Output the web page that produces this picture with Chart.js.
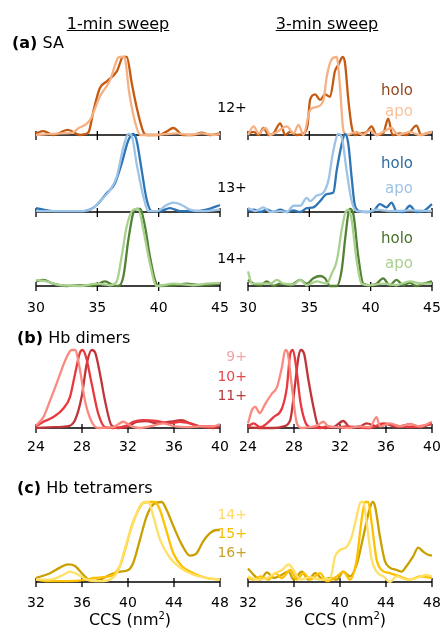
<!DOCTYPE html>
<html><head><meta charset="utf-8">
<script src="https://cdn.jsdelivr.net/npm/chart.js@4"></script>
<style>
body{margin:0;width:443px;height:630px;position:relative;background:#fff;overflow:hidden;font-family:"DejaVu Sans",sans-serif}
canvas{position:absolute;left:0;top:0}
.t{position:absolute;white-space:nowrap;line-height:1}
</style></head>
<body>
<script>
// ---------- tick labels ----------
const SA_TICKS = [30, 35, 40, 45];
const DIMER_TICKS = [24, 28, 32, 36, 40];
const TETRAMER_TICKS = [32, 36, 40, 44, 48];

// ---------- SA 12+ ----------
const SA12_1MIN_HOLO = [[30,0.02],[30.6,0.05],[31.4,0],[32.6,0.065],[33.6,0],[34.0,0.01],[34.3,0.04],[34.7,0.32],[35.2,0.6],[35.8,0.69],[36.6,0.82],[37.1,1.0],[37.4,1.0],[37.8,0.67],[38.2,0.36],[38.75,0.04],[39.0,0],[40.0,0],[40.6,0.04],[41.2,0.09],[42.0,0],[42.8,0],[43.5,0.03],[44.2,0],[45,0.02]];
const SA12_1MIN_APO = [[30,0],[31,0.01],[32,0.02],[33,0.03],[33.4,0.08],[34.4,0.19],[35.2,0.49],[36.0,0.69],[36.8,1.0],[37.2,1.0],[37.6,0.54],[38.1,0.15],[38.5,0],[39.5,0],[40.5,0.01],[41.5,0.02],[42.5,0],[43.5,0.02],[44.5,0],[45,0.01]];
const SA12_3MIN_HOLO = [[30,0.02],[30.46,0.04],[30.87,0],[31.27,0.09],[31.68,0],[32.08,0.02],[32.63,0.15],[33.03,0],[33.44,0.04],[33.98,0],[34.52,0.02],[34.85,0.12],[35.06,0.45],[35.47,0.52],[35.88,0.45],[36.28,0.52],[36.69,0.49],[37.09,0.82],[37.37,0.9],[37.72,1.0],[37.91,0.92],[38.18,0.45],[38.45,0.11],[38.72,0],[39.13,0.02],[39.67,0.04],[40.07,0.11],[40.48,0],[41.02,0.02],[41.43,0.21],[41.78,0],[42.37,0.02],[42.92,0],[43.73,0.12],[44.13,0],[44.54,0.02],[45,0.04]];
const SA12_3MIN_APO = [[30,0],[30.46,0.11],[30.87,0.02],[31.41,0.09],[31.81,0],[32.36,0.04],[33.17,0.11],[33.71,0.02],[34.12,0.13],[34.52,0],[35.06,0.32],[35.6,0.36],[36.15,0.45],[36.42,0.75],[36.82,0.97],[37.23,1.0],[37.5,0.62],[37.77,0.06],[38.04,0],[38.85,0.04],[39.4,0],[39.94,0.06],[40.48,0],[41.02,0.04],[41.7,0.09],[42.24,0],[43.19,0.04],[44.0,0],[45,0.04]];

// ---------- SA 13+ ----------
const SA13_1MIN_HOLO = [[30,0.05],[30.6,0.03],[31.41,0.01],[32.5,0.01],[33.86,0.01],[34.4,0.03],[34.95,0.09],[35.76,0.24],[36.44,0.37],[36.98,0.62],[37.53,0.92],[37.93,1.0],[38.2,0.92],[38.61,0.54],[39.02,0.16],[39.43,0.01],[40.1,0.01],[40.92,0.05],[41.74,0.01],[42.83,0.01],[43.91,0.03],[45,0.09]];
const SA13_1MIN_APO = [[30,0.01],[33.86,0.01],[34.67,0.05],[35.22,0.14],[36.03,0.28],[36.58,0.45],[37.12,0.83],[37.53,1.0],[37.8,0.98],[38.2,0.62],[38.75,0.2],[39.16,0.01],[39.84,0.01],[40.65,0.09],[41.2,0.12],[41.88,0.09],[42.55,0.03],[43.37,0.01],[45,0.03]];
const SA13_3MIN_HOLO = [[30,0.01],[30.46,0.03],[31.0,0],[31.54,0.03],[32.08,0],[32.63,0.03],[33.17,0],[33.71,0.02],[34.25,0],[34.79,0.05],[35.33,0.06],[35.88,0.14],[36.42,0.23],[36.96,0.25],[37.23,0.53],[37.64,0.87],[37.91,1.0],[38.18,0.87],[38.45,0.44],[38.72,0.08],[39.13,0.01],[39.67,0],[40.21,0.01],[40.75,0.1],[41.29,0.06],[41.7,0.12],[42.1,0.01],[42.65,0],[43.19,0.08],[43.73,0],[44.27,0.01],[45,0.1]];
const SA13_3MIN_APO = [[30,0.05],[30.6,0.01],[31.27,0.06],[31.81,0],[32.63,0.01],[33.17,0],[33.71,0.08],[34.25,0.08],[34.79,0.18],[35.06,0.14],[35.6,0.21],[36.15,0.25],[36.55,0.4],[36.96,0.79],[37.37,1.0],[37.64,0.96],[38.04,0.53],[38.45,0.14],[38.85,0.01],[39.67,0],[40.48,0.03],[41.56,0.01],[43.19,0.02],[45,0.01]];

// ---------- SA 14+ ----------
const SA14_1MIN_HOLO = [[30,0.06],[30.6,0.08],[31.41,0.03],[32.5,0],[33.59,0.01],[34.67,0],[35.62,0.06],[36.3,0.01],[36.71,0],[37.12,0.12],[37.53,0.6],[37.93,0.95],[38.2,1.0],[38.48,1.0],[38.89,0.77],[39.29,0.38],[39.7,0.08],[39.97,0],[41.2,0.01],[42.28,0.03],[43.37,0.01],[45,0.03]];
const SA14_1MIN_APO = [[30,0.08],[30.87,0.06],[31.96,0.01],[33.59,0],[34.95,0.03],[36.03,0.01],[36.58,0.06],[36.98,0.38],[37.39,0.77],[37.93,0.99],[38.34,1.0],[38.75,0.73],[39.29,0.29],[39.84,0],[41.2,0.03],[42.83,0.01],[43.91,0.03],[45,0.04]];
const SA14_3MIN_HOLO = [[30,0.08],[30.46,0.03],[31.0,0.01],[31.54,0.06],[32.08,0],[32.63,0.03],[33.44,0.01],[34.25,0.08],[34.79,0.03],[35.33,0.1],[35.88,0.13],[36.28,0.1],[36.69,0],[37.23,0],[37.64,0.21],[37.91,0.6],[38.18,0.94],[38.31,1.0],[38.58,0.94],[38.99,0.38],[39.4,0.03],[39.94,0.01],[40.48,0.03],[41.02,0.1],[41.56,0.01],[42.1,0.08],[42.65,0.01],[43.19,0.04],[43.73,0],[44.27,0.03],[45,0.06]];
const SA14_3MIN_APO = [[30,0.19],[30.32,0.03],[31.0,0.03],[31.81,0.03],[32.36,0.08],[32.9,0.03],[33.71,0.02],[34.25,0.08],[34.79,0.01],[35.6,0.06],[36.42,0.03],[36.82,0.16],[37.23,0.32],[37.64,0.73],[37.91,0.94],[38.18,0.99],[38.45,0.86],[38.85,0.34],[39.26,0.03],[39.94,0.01],[41.02,0.03],[42.1,0.01],[43.19,0.06],[44.27,0.03],[45,0.03]];

// ---------- Hb dimers ----------
const DIMER_1MIN_9 = [[24,0.03],[24.64,0.14],[25.22,0.35],[25.94,0.63],[26.52,0.86],[27.1,1.0],[27.39,1.0],[27.83,0.74],[28.26,0.35],[28.84,0.08],[29.42,0],[30.72,0.01],[31.59,0.08],[32.32,0.02],[33.04,0],[33.91,0.02],[35.07,0.06],[36.09,0.02],[37.1,0.01],[38.26,0.02],[39.42,0.02],[40,0.05]];
const DIMER_1MIN_10 = [[24,0.02],[24.64,0.08],[25.51,0.14],[26.38,0.25],[26.96,0.4],[27.39,0.69],[27.83,0.97],[28.06,1.0],[28.35,0.91],[28.84,0.57],[29.42,0.18],[30.0,0.01],[30.72,0],[31.88,0.03],[32.46,0.08],[33.33,0.1],[34.49,0.09],[35.65,0.06],[36.52,0.08],[37.39,0.06],[38.26,0.02],[39.42,0.02],[40,0.03]];
const DIMER_1MIN_11 = [[24,0],[25.51,0.01],[26.67,0.02],[27.39,0.1],[27.97,0.4],[28.41,0.82],[28.84,1.0],[29.13,0.97],[29.57,0.69],[30.0,0.35],[30.58,0.03],[31.16,0],[31.88,0.01],[32.75,0.08],[33.62,0.09],[34.49,0.06],[35.65,0.08],[36.67,0.1],[37.39,0.06],[38.26,0.02],[39.42,0],[40,0.02]];
const DIMER_3MIN_9 = [[24,0.06],[24.35,0.23],[24.64,0.27],[25.01,0.19],[25.5,0.31],[26.08,0.44],[26.51,0.52],[26.95,0.78],[27.24,1.0],[27.44,0.97],[27.82,0.52],[28.25,0.06],[28.68,0],[29.4,0.01],[29.98,0.03],[30.56,0.08],[30.99,0.02],[31.72,0.01],[32.87,0],[33.74,0.02],[34.61,0.01],[35.18,0.14],[35.47,0.02],[36.34,0.06],[37.21,0.02],[38.08,0.05],[38.94,0.02],[40,0.08]];
const DIMER_3MIN_10 = [[24,0.02],[24.49,0.06],[25.07,0.01],[25.65,0.06],[26.23,0.14],[26.95,0.25],[27.38,0.52],[27.67,0.95],[27.9,1.0],[28.19,0.78],[28.54,0.35],[28.97,0.08],[29.4,0.01],[30.27,0],[30.85,0.02],[31.72,0.01],[32.58,0.02],[33.45,0.01],[34.61,0],[35.76,0.06],[36.92,0.03],[38.08,0.01],[40,0.05]];
const DIMER_3MIN_11 = [[24,0.01],[25.07,0],[26.23,0],[27.09,0.02],[27.67,0.1],[28.1,0.57],[28.39,0.91],[28.6,1.0],[28.88,0.95],[29.26,0.61],[29.69,0.27],[30.13,0.02],[30.71,0],[31.43,0.01],[32.29,0.09],[32.87,0.01],[33.74,0.02],[34.32,0.06],[35.18,0.02],[36.05,0.05],[36.92,0.01],[38.08,0.05],[38.94,0.01],[40,0.06]];

// ---------- Hb tetramers ----------
const TETRA_1MIN_14 = [[32,0.03],[33.22,0.03],[34.38,0.09],[34.96,0.13],[35.54,0.1],[36.41,0.03],[37.57,0.01],[38.43,0.03],[39.16,0.15],[39.88,0.49],[40.46,0.74],[41.04,0.95],[41.48,1.0],[41.77,1.0],[42.2,0.82],[42.78,0.53],[43.65,0.3],[44.52,0.18],[45.68,0.09],[46.84,0.05],[48,0.03]];
const TETRA_1MIN_15 = [[32,0.03],[33.22,0.01],[34.67,0.01],[36.41,0.03],[36.99,0.05],[37.86,0.06],[38.72,0.09],[39.3,0.2],[39.74,0.4],[40.32,0.7],[40.9,0.9],[41.33,0.99],[41.91,1.0],[42.35,1.0],[42.78,0.9],[43.36,0.63],[43.94,0.36],[44.67,0.2],[45.68,0.11],[46.84,0.05],[48,0.03]];
const TETRA_1MIN_16 = [[32,0.05],[33.22,0.11],[34.09,0.18],[34.81,0.22],[35.39,0.2],[36.12,0.09],[36.84,0.01],[37.57,0.03],[38.43,0.09],[39.3,0.13],[40.03,0.15],[40.46,0.24],[41.04,0.53],[41.62,0.82],[42.2,0.97],[42.93,1.0],[43.36,0.9],[43.94,0.7],[44.67,0.47],[45.39,0.33],[45.97,0.36],[46.55,0.51],[47.13,0.61],[47.71,0.65],[48,0.65]];
const TETRA_3MIN_14 = [[32,0.07],[32.78,0.03],[33.65,0.05],[34.37,0.11],[34.95,0.15],[35.53,0.22],[35.96,0.15],[36.54,0.03],[37.4,0.06],[38.27,0.03],[39.14,0.04],[39.57,0.32],[40.01,0.4],[40.58,0.44],[41.02,0.57],[41.45,0.82],[41.8,1.0],[42.03,1.0],[42.32,0.74],[42.75,0.28],[43.18,0.13],[43.76,0.07],[44.34,0],[44.92,0.07],[45.79,0.03],[46.65,0.05],[47.52,0.09],[48,0.07]];
const TETRA_3MIN_15 = [[32,0.05],[32.49,0.03],[33.07,0.07],[33.79,0.03],[34.37,0.11],[34.95,0.05],[35.67,0.15],[36.25,0.03],[36.83,0.11],[37.4,0.03],[38.27,0.11],[38.85,0.01],[39.72,0.07],[40.29,0.13],[40.87,0.03],[41.45,0.28],[41.88,0.78],[42.17,1.0],[42.46,1.0],[42.75,0.74],[43.18,0.28],[43.62,0.15],[44.34,0.11],[45.21,0.07],[46.08,0.03],[46.94,0.07],[48,0.05]];
const TETRA_3MIN_16 = [[32,0.17],[32.49,0.09],[33.07,0.03],[33.65,0.12],[34.23,0.05],[34.8,0.08],[35.53,0.13],[35.96,0.03],[36.68,0.13],[37.26,0.03],[37.84,0.11],[38.56,0.03],[39.14,0.05],[39.72,0.03],[40.29,0.13],[40.87,0.07],[41.45,0.22],[42.03,0.57],[42.55,0.9],[42.84,1.0],[43.04,0.95],[43.47,0.57],[43.91,0.26],[44.34,0.18],[44.92,0.15],[45.35,0.13],[45.79,0.2],[46.36,0.32],[46.8,0.43],[47.23,0.38],[47.66,0.34],[48,0.33]];

// ---------- colours ----------
const C = {
  oH:'#c55a11', oA:'#f4b183', bH:'#2e75b6', bA:'#9dc3e6', gH:'#548235', gA:'#a9d18e',
  d9:'#fa8a80', d10:'#e8393f', d11:'#c0353a', t14:'#ffe066', t15:'#ffc000', t16:'#c9a000'
};

const axisPlugin = {
  id: 'axisPlugin',
  beforeDatasetsDraw(chart, args, opts) {
    const ctx = chart.ctx, xs = chart.scales.x, ys = chart.scales.y;
    const y0 = ys.getPixelForValue(0);
    ctx.save();
    ctx.strokeStyle = '#000'; ctx.lineWidth = 1.3;
    ctx.beginPath();
    ctx.moveTo(xs.getPixelForValue(xs.min), y0);
    ctx.lineTo(xs.getPixelForValue(xs.max), y0);
    opts.ticks.forEach(v => { const p = xs.getPixelForValue(v); ctx.moveTo(p, y0 - 4); ctx.lineTo(p, y0 + 5); });
    ctx.stroke();
    if (opts.labelY) {
      ctx.fillStyle = '#000';
      ctx.font = '14px "DejaVu Sans"';
      ctx.textAlign = 'center'; ctx.textBaseline = 'middle';
      opts.ticks.forEach(v => ctx.fillText(String(v), xs.getPixelForValue(v), opts.labelY));
    }
    ctx.restore();
  }
};

function panel(l, r, t, b, xmin, xmax, ticks, labelY, series) {
  const cv = document.createElement('canvas');
  cv.width = 443; cv.height = 630;
  document.body.appendChild(cv);
  new Chart(cv, {
    type: 'line',
    data: { datasets: series.map(([pts, col]) => ({
      data: pts.map(([x, y]) => ({x, y})),
      borderColor: col, borderWidth: 2.3, pointRadius: 0, fill: false,
      cubicInterpolationMode: 'monotone', clip: false
    })) },
    options: {
      responsive: false, animation: false, events: [],
      layout: { padding: { left: l, right: 443 - r, top: t, bottom: 630 - b } },
      scales: {
        x: { type: 'linear', min: xmin, max: xmax, display: false },
        y: { min: 0, max: 1, display: false }
      },
      plugins: { legend: { display: false }, tooltip: { enabled: false },
        axisPlugin: { ticks, labelY } }
    },
    plugins: [axisPlugin]
  });
}

const L = [36, 220], R = [248, 432];
// SA rows
panel(L[0], L[1], 57, 135, 30, 45, SA_TICKS, 0, [[SA12_1MIN_APO, C.oA], [SA12_1MIN_HOLO, C.oH]]);
panel(R[0], R[1], 57, 135, 30, 45, SA_TICKS, 0, [[SA12_3MIN_APO, C.oA], [SA12_3MIN_HOLO, C.oH]]);
panel(L[0], L[1], 134, 212, 30, 45, SA_TICKS, 0, [[SA13_1MIN_APO, C.bA], [SA13_1MIN_HOLO, C.bH]]);
panel(R[0], R[1], 134, 212, 30, 45, SA_TICKS, 0, [[SA13_3MIN_APO, C.bA], [SA13_3MIN_HOLO, C.bH]]);
panel(L[0], L[1], 209, 286, 30, 45, SA_TICKS, 308, [[SA14_1MIN_APO, C.gA], [SA14_1MIN_HOLO, C.gH]]);
panel(R[0], R[1], 209, 286, 30, 45, SA_TICKS, 308, [[SA14_3MIN_APO, C.gA], [SA14_3MIN_HOLO, C.gH]]);
// dimers
panel(L[0], L[1], 350, 428, 24, 40, DIMER_TICKS, 447, [[DIMER_1MIN_9, C.d9], [DIMER_1MIN_10, C.d10], [DIMER_1MIN_11, C.d11]]);
panel(R[0], R[1], 350, 428, 24, 40, DIMER_TICKS, 447, [[DIMER_3MIN_9, C.d9], [DIMER_3MIN_10, C.d10], [DIMER_3MIN_11, C.d11]]);
// tetramers
panel(L[0], L[1], 502, 582, 32, 48, TETRAMER_TICKS, 603, [[TETRA_1MIN_14, C.t14], [TETRA_1MIN_15, C.t15], [TETRA_1MIN_16, C.t16]]);
panel(R[0], R[1], 502, 582, 32, 48, TETRAMER_TICKS, 603, [[TETRA_3MIN_14, C.t14], [TETRA_3MIN_15, C.t15], [TETRA_3MIN_16, C.t16]]);

// ---------- text ----------
function txt(html, x, y, align, size, color, extra) {
  const d = document.createElement('div');
  d.className = 't';
  d.innerHTML = html;
  const tx = align === 'c' ? '-50%' : align === 'r' ? '-100%' : '0';
  d.style.cssText = `left:${x}px;top:${y}px;transform:translate(${tx},-50%);font-size:${size}px;color:${color};${extra || ''}`;
  document.body.appendChild(d);
}
txt('1-min sweep', 118, 24, 'c', 16, '#000', 'text-decoration:underline');
txt('3-min sweep', 327, 24, 'c', 16, '#000', 'text-decoration:underline');
txt('<b>(a)</b> SA', 12, 43, 'l', 16, '#000');
txt('12+', 232, 107, 'c', 14, '#000');
txt('13+', 232, 187, 'c', 14, '#000');
txt('14+', 232, 258, 'c', 14, '#000');
txt('holo', 413, 90, 'r', 15, '#94451a');
txt('apo', 413, 111, 'r', 15, '#f8c29a');
txt('holo', 413, 163, 'r', 15, '#2f6aa3');
txt('apo', 413, 188, 'r', 15, '#9dc3e6');
txt('holo', 413, 238, 'r', 15, '#47702d');
txt('apo', 413, 263, 'r', 15, '#a9d18e');
txt('<b>(b)</b> Hb dimers', 17, 338, 'l', 16, '#000');
txt('9+', 247, 356, 'r', 14, '#f6a3a3');
txt('10+', 247, 376, 'r', 14, '#e5484d');
txt('11+', 247, 395, 'r', 14, '#b83a3e');
txt('<b>(c)</b> Hb tetramers', 17, 488, 'l', 16, '#000');
txt('14+', 247, 514, 'r', 14, '#ffd966');
txt('15+', 247, 533, 'r', 14, '#f5bd00');
txt('16+', 247, 552, 'r', 14, '#c9a227');
txt('CCS (nm<sup style="font-size:10px;vertical-align:6px;line-height:0">2</sup>)', 130, 620, 'c', 16, '#000');
txt('CCS (nm<sup style="font-size:10px;vertical-align:6px;line-height:0">2</sup>)', 345, 620, 'c', 16, '#000');
</script>
</body></html>
